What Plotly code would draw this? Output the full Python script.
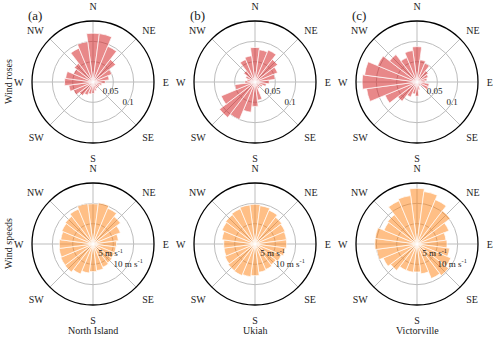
import plotly.graph_objects as go

# wind direction bins (deg, clockwise from north), 15 deg wide
directions = list(range(0, 360, 15))
sites = ["North Island", "Ukiah", "Victorville"]

# frequency of wind direction (wind roses)
rose_north_island = [0.120, 0.120, 0.095, 0.070, 0.050, 0.040, 0.030, 0.022,
                     0.018, 0.017, 0.018, 0.022, 0.028, 0.030, 0.035, 0.042,
                     0.052, 0.060, 0.070, 0.068, 0.052, 0.058, 0.090, 0.100]
rose_ukiah = [0.085, 0.080, 0.085, 0.070, 0.060, 0.050, 0.035, 0.028,
              0.020, 0.015, 0.018, 0.045, 0.060, 0.075, 0.100, 0.110,
              0.090, 0.050, 0.025, 0.020, 0.025, 0.035, 0.060, 0.065]
rose_victorville = [0.087, 0.055, 0.050, 0.035, 0.030, 0.025, 0.020, 0.030,
                    0.030, 0.012, 0.012, 0.020, 0.035, 0.030, 0.040, 0.060,
                    0.085, 0.125, 0.135, 0.130, 0.105, 0.085, 0.065, 0.078]

# mean wind speed per direction (m/s)
speed_north_island = [9.9, 10.2, 9.5, 8.5, 7.3, 6.3, 5.8, 5.7,
                      5.7, 5.9, 6.2, 6.6, 6.8, 7.2, 8.0, 8.7,
                      8.6, 8.4, 8.3, 8.0, 8.3, 8.6, 9.3, 10.0]
speed_ukiah = [9.8, 9.5, 9.0, 8.3, 8.0, 7.8, 7.8, 7.5,
               7.0, 6.5, 6.8, 7.0, 7.8, 8.1, 8.4, 8.3,
               8.0, 7.7, 7.7, 8.2, 8.8, 9.1, 9.4, 9.7]
speed_victorville = [13.7, 13.0, 11.8, 10.3, 8.5, 7.2, 7.4, 8.1,
                     9.0, 9.8, 9.2, 7.4, 6.9, 7.0, 7.0, 8.2,
                     9.0, 10.0, 10.4, 10.4, 8.8, 9.1, 11.5, 12.0]

compass_vals = [0, 45, 90, 135, 180, 225, 270, 315]
compass_text = ["N", "NE", "E", "SE", "S", "SW", "W", "NW"]

rose_ticks = [0.05, 0.1]
rose_ticktext = ["0.05", "0.1"]
speed_ticks = [5, 10]
speed_ticktext = ["5 m s<sup>-1</sup>", "10 m s<sup>-1</sup>"]
label_dir = 120  # direction along which the radial labels sit

W, H = 500, 338
R = 61
centers_x = [93, 255, 417]
centers_y = [82, 244]
FONT = "Liberation Serif"
GRID = "#bdbdbd"

red = "rgba(214,39,40,0.55)"
orange = "rgba(255,127,14,0.5)"

fig = go.Figure()
rows = [
    ([rose_north_island, rose_ukiah, rose_victorville], red, 0.15, rose_ticks, rose_ticktext),
    ([speed_north_island, speed_ukiah, speed_victorville], orange, 15, speed_ticks, speed_ticktext),
]

k = 0
for ri, (series, col, rmax, tv, tt) in enumerate(rows):
    for ci, vals in enumerate(series):
        k += 1
        name = "polar" if k == 1 else f"polar{k}"
        fig.add_trace(go.Barpolar(
            r=vals, theta=directions, width=15,
            marker=dict(color=col, line=dict(color="white", width=0.7)),
            subplot=name, showlegend=False, hoverinfo="skip",
        ))
        # radial tick labels, written at the tick radii
        fig.add_trace(go.Scatterpolar(
            r=tv, theta=[label_dir] * len(tv), text=tt, mode="text",
            textposition="middle center",
            textfont=dict(family=FONT, size=9, color="#222"),
            subplot=name, showlegend=False, hoverinfo="skip",
        ))
        cx, cy = centers_x[ci], centers_y[ri]
        fig.layout[name] = dict(
            domain=dict(x=[(cx - R) / W, (cx + R) / W],
                        y=[1 - (cy + R) / H, 1 - (cy - R) / H]),
            bgcolor="white",
            angularaxis=dict(
                rotation=90, direction="clockwise",
                tickmode="array", tickvals=compass_vals, ticktext=compass_text,
                ticks="outside", ticklen=6, tickcolor="rgba(0,0,0,0)",
                showgrid=True, gridcolor=GRID, gridwidth=1,
                showline=True, linecolor="black", linewidth=1.3,
                tickfont=dict(family=FONT, size=10, color="#222"),
                layer="below traces",
            ),
            radialaxis=dict(
                range=[0, rmax], tickmode="array", tickvals=tv,
                showticklabels=False, showline=False, ticks="",
                showgrid=True, gridcolor=GRID, gridwidth=1,
                layer="below traces",
            ),
        )

annotations = []
for ci, lab in enumerate(["(a)", "(b)", "(c)"]):
    annotations.append(dict(text=lab, x=(centers_x[ci] - 67) / W, y=1 - 15 / H,
                            xref="paper", yref="paper", showarrow=False,
                            xanchor="left", yanchor="middle",
                            font=dict(family=FONT, size=13, color="#222")))
for ci, s in enumerate(sites):
    annotations.append(dict(text=s, x=centers_x[ci] / W, y=1 - 330 / H,
                            xref="paper", yref="paper", showarrow=False,
                            xanchor="center", yanchor="middle",
                            font=dict(family=FONT, size=10, color="#222")))
for ri, s in enumerate(["Wind roses", "Wind speeds"]):
    annotations.append(dict(text=s, x=8 / W, y=1 - centers_y[ri] / H,
                            xref="paper", yref="paper", showarrow=False,
                            textangle=-90, xanchor="center", yanchor="middle",
                            font=dict(family=FONT, size=10, color="#222")))

fig.update_layout(
    width=W, height=H,
    margin=dict(l=0, r=0, t=0, b=0),
    paper_bgcolor="white",
    annotations=annotations,
)

# drop the default page margin so the figure sits at the window origin
fig.write_html("out.html", config={"displayModeBar": False},
               post_script="document.body.style.margin='0';")
